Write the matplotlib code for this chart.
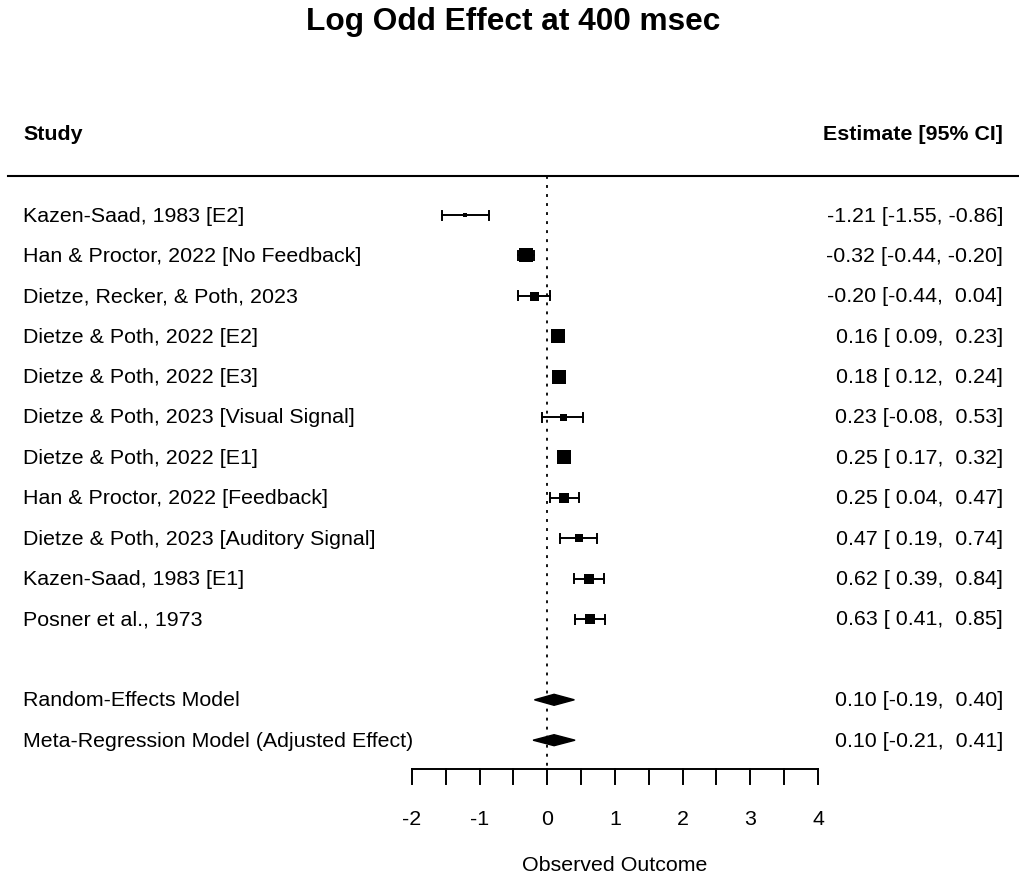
import matplotlib
matplotlib.use("Agg")
import matplotlib.pyplot as plt
from matplotlib.patches import Polygon
import numpy as np

plt.rcParams['font.family'] = ['Liberation Sans', 'DejaVu Sans']

studies = ["Kazen-Saad, 1983 [E2]", "Han & Proctor, 2022 [No Feedback]",
           "Dietze, Recker, & Poth, 2023", "Dietze & Poth, 2022 [E2]",
           "Dietze & Poth, 2022 [E3]", "Dietze & Poth, 2023 [Visual Signal]",
           "Dietze & Poth, 2022 [E1]", "Han & Proctor, 2022 [Feedback]",
           "Dietze & Poth, 2023 [Auditory Signal]", "Kazen-Saad, 1983 [E1]",
           "Posner et al., 1973"]
est = [-1.21, -0.32, -0.20, 0.16, 0.18, 0.23, 0.25, 0.25, 0.47, 0.62, 0.63]
lo = [-1.55, -0.44, -0.44, 0.09, 0.12, -0.08, 0.17, 0.04, 0.19, 0.39, 0.41]
hi = [-0.86, -0.20, 0.04, 0.23, 0.24, 0.53, 0.32, 0.47, 0.74, 0.84, 0.85]
weights = [5, 14, 9, 14, 14, 7, 14, 10, 8.5, 10, 10]  # relative marker size (px)

models = ["Random-Effects Model", "Meta-Regression Model (Adjusted Effect)"]
m_est = [0.10, 0.10]
m_lo = [-0.19, -0.21]
m_hi = [0.40, 0.41]

xticks = np.arange(-2, 4.01, 0.5)
xticklabels = ["-2", "-1", "0", "1", "2", "3", "4"]

W, H = 1019, 878
fig = plt.figure(figsize=(W / 100, H / 100), dpi=100)
ax = fig.add_axes([0, 0, 1, 1])
# pixel mapping
x0px, scale = 547.3, 67.67
y0px, rowh = 216.0, 40.4
ax.set_xlim((0 - x0px) / scale, (W - x0px) / scale)
ax.set_ylim((H - y0px) / rowh, (0 - y0px) / rowh)
ax.axis('off')

def px2x(p):
    return (p - x0px) / scale

def py2y(p):
    return (p - y0px) / rowh

fs = 15.4
rows = np.arange(len(studies))
mrows = [len(studies) + 1, len(studies) + 2]

# reference line
ax.plot([0, 0], [py2y(177), py2y(770)], color='black', lw=1.3, ls=(0, (1.6, 3.4)))

# header line
ax.plot([px2x(8), px2x(1019)], [py2y(177), py2y(177)], color='black', lw=1.5)

# title and headers
ax.text(px2x(513), py2y(22), "Log Odd Effect at 400 msec", ha='center', va='center',
        fontsize=22.8, fontweight='bold')
ax.text(px2x(23), py2y(135), "Study", ha='left', va='center', fontsize=fs, fontweight='bold')
ax.text(px2x(1003), py2y(135), "Estimate [95% CI]", ha='right', va='center', fontsize=fs,
        fontweight='bold')

cap = 4.5 / rowh
for i, r in enumerate(rows):
    ax.plot([lo[i], hi[i]], [r, r], color='black', lw=1.4)
    for xv in (lo[i], hi[i]):
        ax.plot([xv, xv], [r - cap, r + cap], color='black', lw=1.4)
    ax.plot(est[i], r, marker='s', color='black', markersize=weights[i] * 0.72, mew=0)
    ax.text(px2x(23), r, studies[i], ha='left', va='center', fontsize=fs)
    ax.text(px2x(1003), r, f"{est[i]:5.2f} [{lo[i]:5.2f}, {hi[i]:5.2f}]",
            ha='right', va='center', fontsize=fs)

dh = 5.5 / rowh
for j, r in enumerate(mrows):
    poly = Polygon([[m_lo[j], r], [m_est[j], r - dh], [m_hi[j], r], [m_est[j], r + dh]],
                   closed=True, facecolor='black', edgecolor='black', lw=1)
    ax.add_patch(poly)
    ax.text(px2x(23), r, models[j], ha='left', va='center', fontsize=fs)
    ax.text(px2x(1003), r, f"{m_est[j]:5.2f} [{m_lo[j]:5.2f}, {m_hi[j]:5.2f}]",
            ha='right', va='center', fontsize=fs)

# x axis
ya = py2y(770)
ax.plot([xticks[0], xticks[-1]], [ya, ya], color='black', lw=1.4)
tl = 15 / rowh
for t in xticks:
    ax.plot([t, t], [ya, ya + tl], color='black', lw=1.4)
for t, lab in zip(xticks[::2], xticklabels):
    ax.text(t, py2y(820), lab, ha='center', va='center', fontsize=fs)
ax.text(px2x(615), py2y(866), "Observed Outcome", ha='center', va='center', fontsize=fs)

fig.savefig("out.png", dpi=100)
